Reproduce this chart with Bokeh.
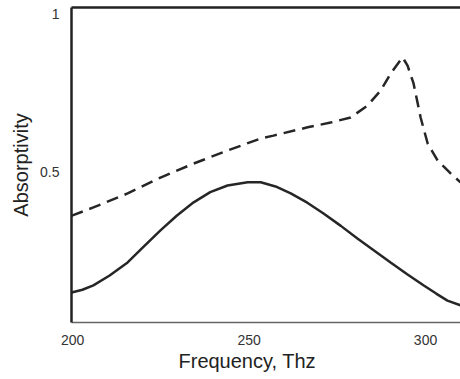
from bokeh.plotting import figure
from bokeh.models import LinearAxis, FixedTicker, Range1d, Title
from bokeh.embed import file_html
from bokeh.resources import INLINE

# Solid curve (frequency THz, absorptivity)
solid_f = [199.7, 200.0, 202.8, 205.9, 210.5, 215.6, 220.0, 224.9, 229.5, 234.3, 239.0, 243.9,
           249.6, 253.3, 257.5, 261.8, 266.5, 271.1, 276.0, 280.7, 285.5, 290.1, 294.8, 299.4,
           303.0, 306.2, 309.9]
solid_a = [0.122, 0.123, 0.131, 0.145, 0.176, 0.217, 0.265, 0.318, 0.364, 0.406, 0.438, 0.459,
           0.469, 0.469, 0.456, 0.434, 0.405, 0.371, 0.332, 0.292, 0.254, 0.217, 0.180, 0.145,
           0.119, 0.097, 0.082]

# Dashed curve
dash_f = [199.7, 200.0, 205.9, 215.6, 224.9, 234.3, 243.9, 253.3, 256.9, 266.6, 273.1, 278.8,
          283.6, 287.3, 290.1, 292.4, 293.5, 294.9, 296.6, 298.6, 300.6, 303.4, 307.1, 309.9]
dash_a = [0.364, 0.365, 0.390, 0.434, 0.484, 0.528, 0.569, 0.607, 0.616, 0.642, 0.657, 0.673,
          0.711, 0.758, 0.811, 0.846, 0.862, 0.836, 0.780, 0.673, 0.591, 0.538, 0.497, 0.469]

x_ticks = [200, 250, 300]
y_ticks = [0.5, 1]

FONT = "Liberation Sans"

p = figure(width=460, height=379, output_backend="svg", toolbar_location=None,
           x_range=Range1d(199.7, 309.9), y_range=Range1d(0.028, 1.019),
           min_border_left=71, min_border_right=0, min_border_top=7, min_border_bottom=57)
p.outline_line_color = None
p.grid.visible = False
p.background_fill_color = "white"
p.border_fill_color = "white"

p.line(solid_f, solid_a, line_color="#262626", line_width=2.5)
p.line(dash_f, dash_a, line_color="#262626", line_width=2.5, line_dash="12 7")

xa = p.xaxis[0]
xa.ticker = FixedTicker(ticks=x_ticks)
xa.axis_line_color = "#666666"
xa.axis_line_width = 1.5
xa.major_tick_line_color = None
xa.minor_tick_line_color = None
xa.major_label_standoff = 6
xa.major_label_text_font = FONT
xa.major_label_text_font_size = "14px"
xa.major_label_text_color = "#333333"

ya = p.yaxis[0]
ya.ticker = FixedTicker(ticks=y_ticks)
ya.axis_label = "Absorptivity"
ya.axis_line_color = "#222222"
ya.axis_line_width = 2.5
ya.major_tick_line_color = None
ya.minor_tick_line_color = None
ya.major_label_standoff = 6
ya.major_label_text_font = FONT
ya.major_label_text_font_size = "14px"
ya.major_label_text_color = "#333333"
ya.axis_label_text_font = FONT
ya.axis_label_text_font_size = "20px"
ya.axis_label_text_font_style = "normal"
ya.axis_label_text_color = "#222222"
ya.axis_label_standoff = 5

top = LinearAxis(ticker=FixedTicker(ticks=[]), axis_line_color="#222222", axis_line_width=2.5,
                 major_tick_line_color=None, minor_tick_line_color=None,
                 major_label_text_font_size="0px")
p.add_layout(top, "above")

xlabel = Title(text="Frequency, Thz", text_font=FONT, text_font_size="20px",
               text_font_style="normal", text_color="#222222", align="left",
               offset=107, standoff=0)
p.add_layout(xlabel, "below")

open("out.html", "w").write(file_html(p, INLINE))
